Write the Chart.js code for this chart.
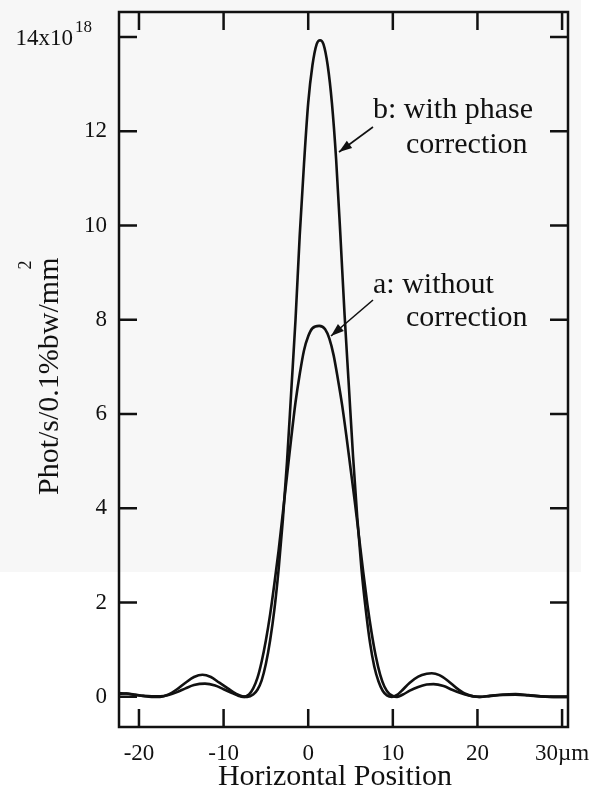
<!DOCTYPE html>
<html>
<head>
<meta charset="utf-8">
<script src="https://cdn.jsdelivr.net/npm/chart.js@4"></script>
<style>
html, body { margin: 0; padding: 0; background: #fff; }
</style>
</head>
<body>
<canvas id="chart" width="592" height="793"></canvas>
<script>
const xTicks = [-20, -10, 0, 10, 20, 30]
const yTicks = [0, 2, 4, 6, 8, 10, 12, 14]

// b: with phase correction
const bX = [-22.4, -21.5, -20.5, -19.5, -18.5, -17.5, -16.5, -15.5, -14.5, -13.5, -12.5, -11.5, -10.5, -9.5, -8.5, -7.8, -7.2,
  -6.5, -6.0, -5.5, -5.0, -4.5, -4.0, -3.5, -3.0, -2.5, -2.0, -1.5, -1.0, -0.5, 0, 0.5, 1.0, 1.4, 1.8, 2.3, 2.8, 3.3, 3.8,
  4.3, 4.8, 5.3, 5.8, 6.3, 6.8, 7.3, 7.8, 8.3, 8.8, 9.3, 9.9, 10.5, 11.0, 12.0, 13.0, 14.0, 14.6, 15.5, 16.5, 17.5, 18.5,
  19.5, 20.3, 21.5, 23.0, 24.5, 26.0, 27.5, 29.0, 30.7]
const bY = [0.06, 0.07, 0.05, 0.02, 0.0, 0.0, 0.05, 0.16, 0.3, 0.42, 0.47, 0.42, 0.3, 0.18, 0.06, 0.01, 0.0,
  0.05, 0.15, 0.35, 0.7, 1.2, 1.85, 2.7, 3.75, 5.0, 6.5, 8.0, 9.8, 11.3, 12.6, 13.4, 13.85, 13.93, 13.85, 13.4, 12.6, 11.4, 9.8,
  8.1, 6.6, 5.1, 3.8, 2.7, 1.85, 1.15, 0.65, 0.33, 0.13, 0.03, 0.0, 0.04, 0.12, 0.3, 0.43, 0.49, 0.5, 0.46, 0.34, 0.19, 0.07,
  0.01, 0.0, 0.02, 0.05, 0.06, 0.04, 0.01, 0.0, 0.0]

// a: without correction
const aX = [-22.4, -21.5, -20.5, -19.5, -18.5, -17.5, -16.5, -15.5, -14.5, -13.5, -12.2, -11.0, -10.0, -9.0, -8.2, -7.7,
  -7.0, -6.5, -6.0, -5.5, -5.0, -4.5, -4.0, -3.5, -3.0, -2.5, -2.0, -1.5, -1.0, -0.5, 0, 0.5, 1.3, 2.0, 2.5, 3.0, 3.5, 4.0,
  4.5, 5.0, 5.5, 6.0, 6.5, 7.0, 7.5, 8.0, 8.5, 9.0, 9.6, 10.5, 11.2, 12.0, 13.0, 14.0, 14.8, 16.0, 17.0, 18.0, 19.0, 20.2,
  21.5, 23.0, 24.5, 26.0, 27.5, 29.0, 30.7]
const aY = [0.08, 0.07, 0.04, 0.02, 0.01, 0.01, 0.04, 0.1, 0.18, 0.25, 0.28, 0.24, 0.16, 0.08, 0.02, 0.0,
  0.05, 0.18, 0.4, 0.75, 1.2, 1.75, 2.4, 3.1, 3.9, 4.7, 5.5, 6.25, 6.85, 7.35, 7.65, 7.82, 7.87, 7.8, 7.6, 7.25, 6.75, 6.2,
  5.55, 4.85, 4.15, 3.4, 2.65, 1.95, 1.35, 0.85, 0.47, 0.22, 0.06, 0.0, 0.05, 0.13, 0.21, 0.26, 0.27, 0.23, 0.15, 0.08, 0.03, 0.0,
  0.02, 0.04, 0.045, 0.03, 0.01, 0.0, 0.0]

const serif = '"Liberation Serif", "Times New Roman", serif'
const ink = '#111'

function pts(xs, ys) {
  return xs.map((x, i) => ({x: x, y: ys[i]}))
}

function arrow(ctx, x1, y1, x2, y2) {
  ctx.beginPath()
  ctx.moveTo(x1, y1)
  ctx.lineTo(x2, y2)
  ctx.lineWidth = 1.6
  ctx.stroke()
  const ang = Math.atan2(y2 - y1, x2 - x1)
  const len = 13, half = 4.5
  ctx.beginPath()
  ctx.moveTo(x2, y2)
  ctx.lineTo(x2 - len * Math.cos(ang) + half * Math.sin(ang), y2 - len * Math.sin(ang) - half * Math.cos(ang))
  ctx.lineTo(x2 - len * Math.cos(ang) - half * Math.sin(ang), y2 - len * Math.sin(ang) + half * Math.cos(ang))
  ctx.closePath()
  ctx.fill()
}

const decor = {
  id: 'decor',
  beforeDraw(chart) {
    const ctx = chart.ctx
    ctx.save()
    ctx.fillStyle = '#fff'
    ctx.fillRect(0, 0, chart.width, chart.height)
    ctx.fillStyle = '#f7f7f7'
    ctx.fillRect(0, 0, 581, 572)
    ctx.restore()
  },
  afterDraw(chart) {
    const ctx = chart.ctx
    const {left, right, top, bottom} = chart.chartArea
    const xs = chart.scales.x, ys = chart.scales.y
    ctx.save()
    ctx.strokeStyle = ink
    ctx.fillStyle = ink
    ctx.lineWidth = 2.5
    ctx.strokeRect(left, top, right - left, bottom - top)
    const tl = 18
    ctx.beginPath()
    xTicks.forEach(v => {
      const px = xs.getPixelForValue(v)
      ctx.moveTo(px, bottom); ctx.lineTo(px, bottom - tl)
      ctx.moveTo(px, top); ctx.lineTo(px, top + tl)
    })
    yTicks.forEach(v => {
      const py = ys.getPixelForValue(v)
      ctx.moveTo(left, py); ctx.lineTo(left + tl, py)
      ctx.moveTo(right, py); ctx.lineTo(right - tl, py)
    })
    ctx.stroke()

    // top y label with exponent
    const y14 = ys.getPixelForValue(14)
    ctx.textBaseline = 'alphabetic'
    ctx.textAlign = 'right'
    ctx.font = '23px ' + serif
    ctx.fillText('14x10', 73, y14 + 8)
    ctx.textAlign = 'left'
    ctx.font = '17px ' + serif
    ctx.fillText('18', 75, y14 - 5)

    // axis titles
    ctx.font = '30px ' + serif
    ctx.textAlign = 'center'
    ctx.fillText('Horizontal Position', 335, 785)

    ctx.save()
    ctx.translate(58, 495)
    ctx.rotate(-Math.PI / 2)
    ctx.textAlign = 'left'
    ctx.font = '30px ' + serif
    const main = 'Phot/s/0.1%bw/mm'
    ctx.fillText(main, 0, 0)
    const w = ctx.measureText(main).width
    ctx.font = '18px ' + serif
    ctx.fillText('2', w - 12, -27)
    ctx.restore()

    // annotations
    ctx.font = '30px ' + serif
    ctx.textAlign = 'left'
    ctx.fillText('b: with phase', 373, 118)
    ctx.fillText('correction', 406, 153)
    ctx.fillText('a: without', 373, 293)
    ctx.fillText('correction', 406, 326)
    arrow(ctx, 373, 127, 339, 152)
    arrow(ctx, 373, 300, 331, 336)
    ctx.restore()
  }
}

const line = {
  showLine: true,
  borderColor: ink,
  borderWidth: 2.6,
  pointRadius: 0,
  fill: false,
  cubicInterpolationMode: 'monotone'
}

new Chart(document.getElementById('chart'), {
  type: 'scatter',
  data: {
    datasets: [
      Object.assign({label: 'b: with phase correction', data: pts(bX, bY)}, line),
      Object.assign({label: 'a: without correction', data: pts(aX, aY)}, line)
    ]
  },
  options: {
    responsive: false,
    animation: false,
    layout: {padding: {top: 12, right: 24, left: 0, bottom: 0}},
    plugins: {legend: {display: false}, tooltip: {enabled: false}},
    scales: {
      x: {
        type: 'linear',
        min: -22.36,
        max: 30.7,
        afterBuildTicks: s => { s.ticks = xTicks.map(v => ({value: v})) },
        afterFit: s => { s.height = 66; s.paddingLeft = 0; s.paddingRight = 0 },
        grid: {display: false, drawTicks: false},
        border: {display: false},
        ticks: {
          padding: 13,
          color: ink,
          maxRotation: 0,
          autoSkip: false,
          font: {family: serif, size: 23},
          callback: v => v === 30 ? '30\u00b5m' : String(v)
        }
      },
      y: {
        type: 'linear',
        min: -0.64,
        max: 14.53,
        afterBuildTicks: s => { s.ticks = yTicks.map(v => ({value: v})) },
        afterFit: s => { s.width = 119; s.paddingTop = 0; s.paddingBottom = 0 },
        grid: {display: false, drawTicks: false},
        border: {display: false},
        ticks: {
          padding: 12,
          color: ink,
          autoSkip: false,
          font: {family: serif, size: 23},
          callback: v => v === 14 ? '' : String(v)
        }
      }
    }
  },
  plugins: [decor]
})
</script>
</body>
</html>
